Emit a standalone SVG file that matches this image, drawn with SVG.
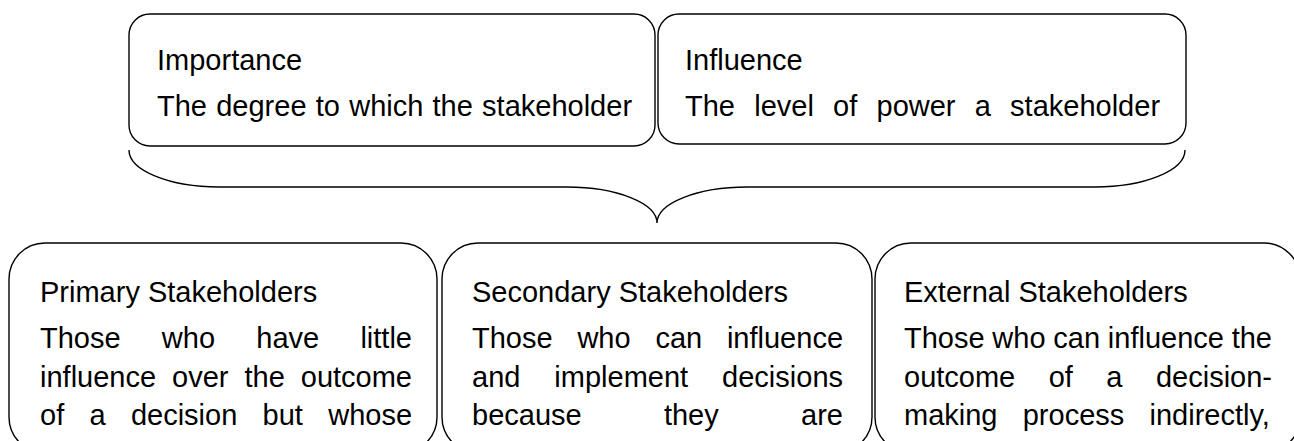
<svg xmlns="http://www.w3.org/2000/svg" width="1294" height="441" viewBox="0 0 1294 441">
<style>
.box{fill:#fff;stroke:#000;stroke-width:1.4}
.brace{fill:none;stroke:#000;stroke-width:1.4}
.t{font-family:"Liberation Sans",Arial,Helvetica,sans-serif;font-size:29px;fill:#000}
</style>
<defs>
<clipPath id="textclip"><rect x="0" y="0" width="1294" height="431"/></clipPath>
</defs>
<rect width="1294" height="441" fill="#fff"/>
<g id="connectors">
<path class="brace" d="M129,150 A90,37 0 0 0 219,187 L567,187 A90,36 0 0 1 657,223 A90,36 0 0 1 747,187 L1095,187 A90,37 0 0 0 1185,150"/>
</g>
<g id="node-importance">
<rect class="box" x="129" y="14" width="526" height="132" rx="21" ry="21"/>
<text class="t" x="157" y="70">Importance</text>
<text class="t" y="116"><tspan x="157">The</tspan><tspan x="216.22">degree</tspan><tspan x="315.75">to</tspan><tspan x="349.19">which</tspan><tspan x="432.56">the</tspan><tspan x="482.12">stakeholder</tspan></text>
</g>
<g id="node-influence">
<rect class="box" x="658" y="14" width="528" height="130" rx="21" ry="21"/>
<text class="t" x="685" y="70">Influence</text>
<text class="t" y="116"><tspan x="685">The</tspan><tspan x="754.22">level</tspan><tspan x="833.09">of</tspan><tspan x="876.53">power</tspan><tspan x="974.75">a</tspan><tspan x="1010.12">stakeholder</tspan></text>
</g>
<g id="node-primary">
<rect class="box" x="9" y="243" width="428" height="210" rx="36" ry="36"/>
<g clip-path="url(#textclip)">
<text class="t" x="40" y="302">Primary Stakeholders</text>
<text class="t" y="348"><tspan x="40">Those</tspan><tspan x="161.85">who</tspan><tspan x="256.30">have</tspan><tspan x="360.43">little</tspan></text>
<text class="t" y="387"><tspan x="40">influence</tspan><tspan x="172.06">over</tspan><tspan x="244.47">the</tspan><tspan x="300.78">outcome</tspan></text>
<text class="t" y="425"><tspan x="40">of</tspan><tspan x="89.49">a</tspan><tspan x="130.91">decision</tspan><tspan x="262.58">but</tspan><tspan x="328.19">whose</tspan></text>
</g>
</g>
<g id="node-secondary">
<rect class="box" x="442" y="243" width="430" height="210" rx="36" ry="36"/>
<g clip-path="url(#textclip)">
<text class="t" x="472" y="302">Secondary Stakeholders</text>
<text class="t" y="348"><tspan x="472">Those</tspan><tspan x="577.39">who</tspan><tspan x="655.38">can</tspan><tspan x="726.93">influence</tspan></text>
<text class="t" y="387"><tspan x="472">and</tspan><tspan x="554.37">implement</tspan><tspan x="722.12">decisions</tspan></text>
<text class="t" y="425"><tspan x="472">because</tspan><tspan x="663.95">they</tspan><tspan x="801.09">are</tspan></text>
</g>
</g>
<g id="node-external">
<rect class="box" x="875" y="243" width="425" height="210" rx="36" ry="36"/>
<g clip-path="url(#textclip)">
<text class="t" x="904" y="302">External Stakeholders</text>
<text class="t" y="348"><tspan x="904">Those</tspan><tspan x="992.37">who</tspan><tspan x="1053.33">can</tspan><tspan x="1107.86">influence</tspan><tspan x="1231.69">the</tspan></text>
<text class="t" y="387"><tspan x="904">outcome</tspan><tspan x="1048.70">of</tspan><tspan x="1106.37">a</tspan><tspan x="1155.97">decision-</tspan></text>
<text class="t" y="425"><tspan x="904">making</tspan><tspan x="1022.74">process</tspan><tspan x="1149.54">indirectly,</tspan></text>
</g>
</g>
</svg>
